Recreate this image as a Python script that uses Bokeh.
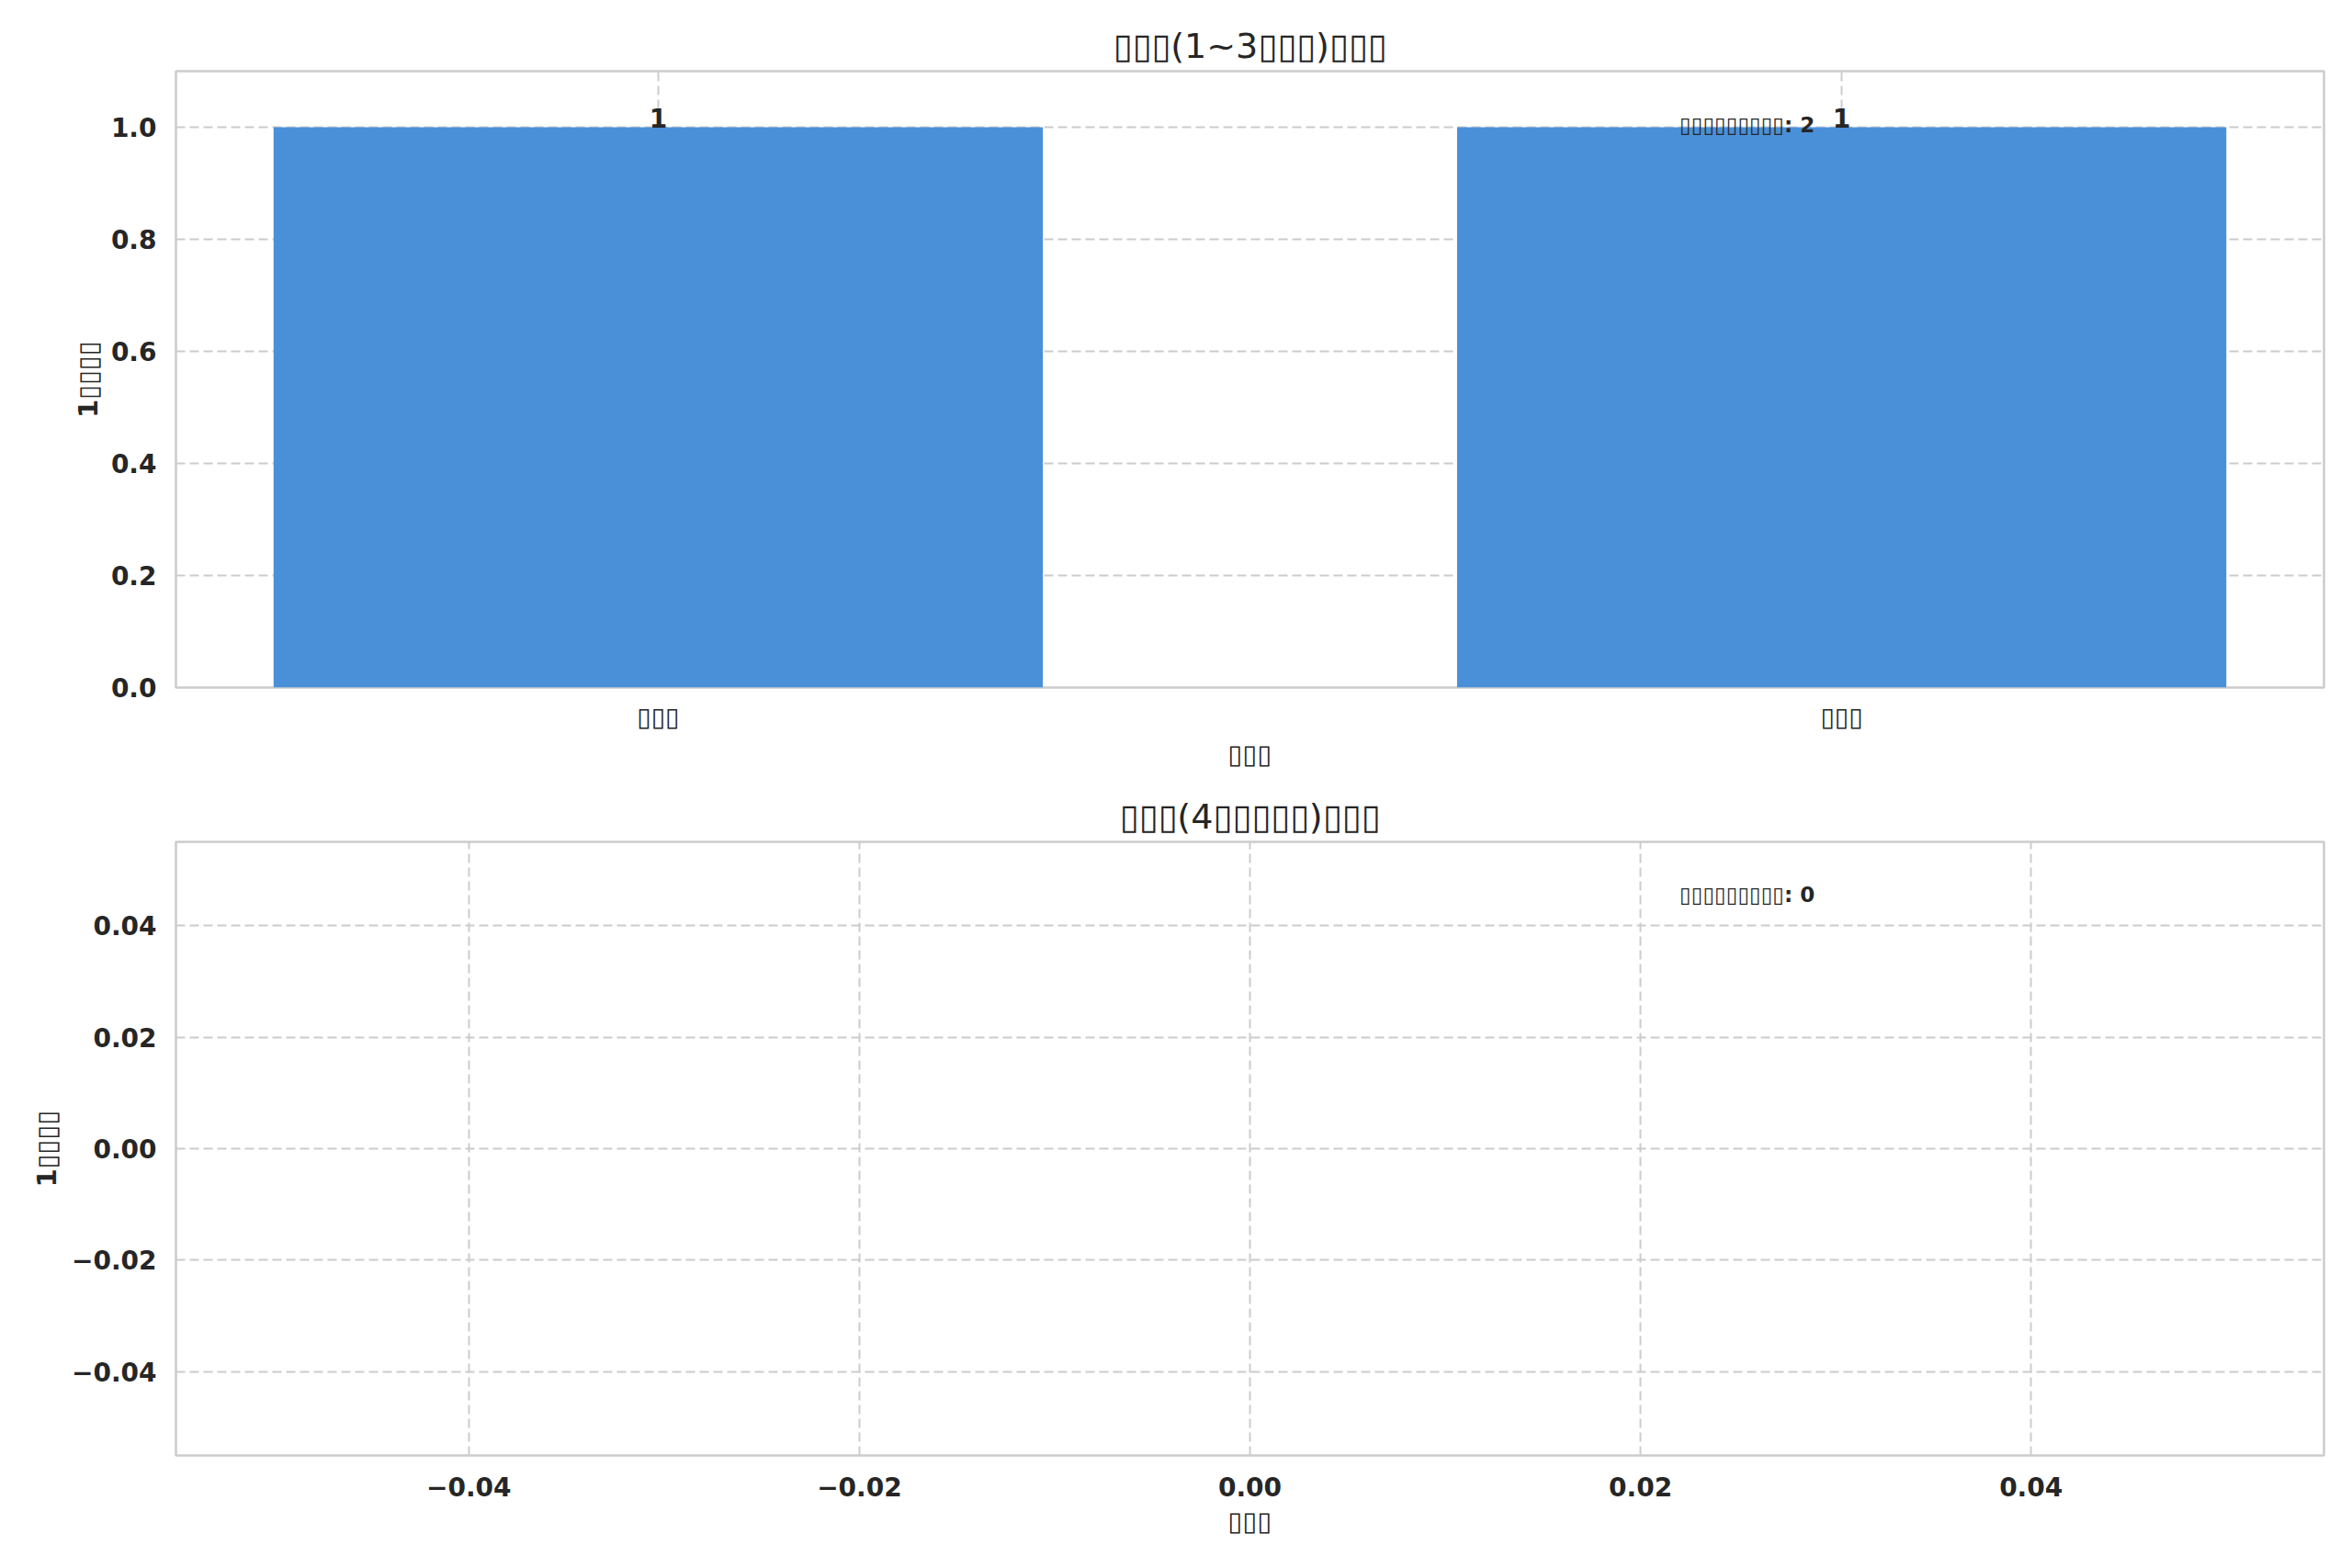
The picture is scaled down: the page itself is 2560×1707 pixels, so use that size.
from bokeh.plotting import figure
from bokeh.layouts import column
from bokeh.models import FixedTicker, Range1d, ColumnDataSource
from bokeh.core.properties import value
from bokeh.embed import file_html
from bokeh.resources import INLINE

# ---- data (the original CJK text rendered as missing-glyph boxes) ----
title1 = "▯▯▯(1~3▯▯▯)▯▯▯"
title2 = "▯▯▯(4▯▯▯▯▯)▯▯▯"
x_label = "▯▯▯"
y_label = "1▯▯▯▯"
annot_prefix = "▯▯▯▯▯▯▯▯▯"
categories1 = ["▯▯▯", "▯▯▯"]
values1 = [1, 1]
categories2 = []
values2 = []
y_ticks1 = [0.0, 0.2, 0.4, 0.6, 0.8, 1.0]
ticks2 = [-0.04, -0.02, 0.0, 0.02, 0.04]

TEXT = "#262626"
GRID = "#cccccc"
BAR = "#4a90d9"
FONT = "DejaVu Sans"
W = 2544


def style(p):
    p.outline_line_color = GRID
    p.outline_line_width = 2.5
    p.background_fill_color = "white"
    p.border_fill_color = "white"
    for ax in (p.xaxis, p.yaxis):
        ax.axis_line_color = None
        ax.major_tick_line_color = None
        ax.minor_tick_line_color = None
        ax.major_label_text_font = FONT
        ax.major_label_text_font_style = "bold"
        ax.major_label_text_font_size = "28px"
        ax.major_label_text_color = TEXT
        ax.axis_label_text_font = FONT
        ax.axis_label_text_font_style = "bold"
        ax.axis_label_text_font_size = "29px"
        ax.axis_label_text_color = TEXT
    p.xaxis.major_label_standoff = 9
    p.yaxis.major_label_standoff = 15
    p.xaxis.axis_label_standoff = 4
    p.yaxis.axis_label_standoff = 5
    for g in (p.xgrid, p.ygrid):
        g.grid_line_color = GRID
        g.grid_line_width = 2
        g.grid_line_dash = "10 5"
    p.title.text_font = FONT
    p.title.text_font_style = "normal"
    p.title.text_font_size = "38px"
    p.title.text_color = TEXT
    p.title.align = "center"
    p.title.standoff = 12


# ---------- top chart ----------
xs1 = list(range(len(categories1)))
bw = 0.65
pad = 0.05 * (len(categories1) - 1 + bw)
x1_start = -bw / 2 - pad
x1_end = len(categories1) - 1 + bw / 2 + pad
y1_end = 1.1

p1 = figure(width=W, height=840, output_backend="svg", toolbar_location=None,
            x_range=Range1d(x1_start, x1_end), y_range=Range1d(0, y1_end),
            title=title1, min_border_left=191, min_border_right=15,
            min_border_top=77, min_border_bottom=92)
style(p1)
src1 = ColumnDataSource(dict(x=xs1, top=values1, lab=[str(v) for v in values1]))
p1.vbar(x="x", top="top", bottom=0, width=bw, source=src1,
        fill_color=BAR, line_color=None)
p1.text(x="x", y="top", text="lab", source=src1, text_align="center",
        text_baseline="bottom", text_font=value(FONT), text_font_style="bold",
        text_font_size="28px", text_color=TEXT)
p1.xaxis.ticker = FixedTicker(ticks=xs1)
p1.xaxis.major_label_overrides = {i: c for i, c in zip(xs1, categories1)}
p1.xaxis.major_label_text_font_style = "normal"
p1.yaxis.ticker = FixedTicker(ticks=y_ticks1)
p1.yaxis.major_label_overrides = {t: f"{t:.1f}" for t in y_ticks1}
p1.xaxis.axis_label = x_label
p1.yaxis.axis_label = y_label
p1.text(x=[x1_start + 0.7 * (x1_end - x1_start)], y=[0.9 * y1_end],
        text=[f"{annot_prefix}: {len(values1)}"], text_align="left",
        text_baseline="bottom", y_offset=4, text_font=value(FONT),
        text_font_style="bold", text_font_size="23px", text_color=TEXT)

# ---------- bottom chart ----------
lim = 0.055
p2 = figure(width=W, height=860, output_backend="svg", toolbar_location=None,
            x_range=Range1d(-lim, lim), y_range=Range1d(-lim, lim),
            title=title2, min_border_left=191, min_border_right=15,
            min_border_top=76, min_border_bottom=116)
style(p2)
p2.xaxis.major_label_standoff = 17
p2.xaxis.axis_label_standoff = 7
p2.yaxis.axis_label_standoff = 7
src2 = ColumnDataSource(dict(x=list(range(len(categories2))), top=values2))
p2.vbar(x="x", top="top", bottom=0, width=bw, source=src2,
        fill_color=BAR, line_color=None)
fmt = {t: f"{t:.2f}".replace("-", "\u2212") for t in ticks2}
p2.xaxis.ticker = FixedTicker(ticks=ticks2)
p2.yaxis.ticker = FixedTicker(ticks=ticks2)
p2.xaxis.major_label_overrides = fmt
p2.yaxis.major_label_overrides = fmt
p2.xaxis.axis_label = x_label
p2.yaxis.axis_label = y_label
p2.text(x=[-lim + 0.7 * 2 * lim], y=[-lim + 0.9 * 2 * lim],
        text=[f"{annot_prefix}: {len(values2)}"], text_align="left",
        text_baseline="bottom", y_offset=4, text_font=value(FONT),
        text_font_style="bold", text_font_size="23px", text_color=TEXT)

layout = column(p1, p2)
open("out.html", "w").write(file_html(layout, INLINE))
